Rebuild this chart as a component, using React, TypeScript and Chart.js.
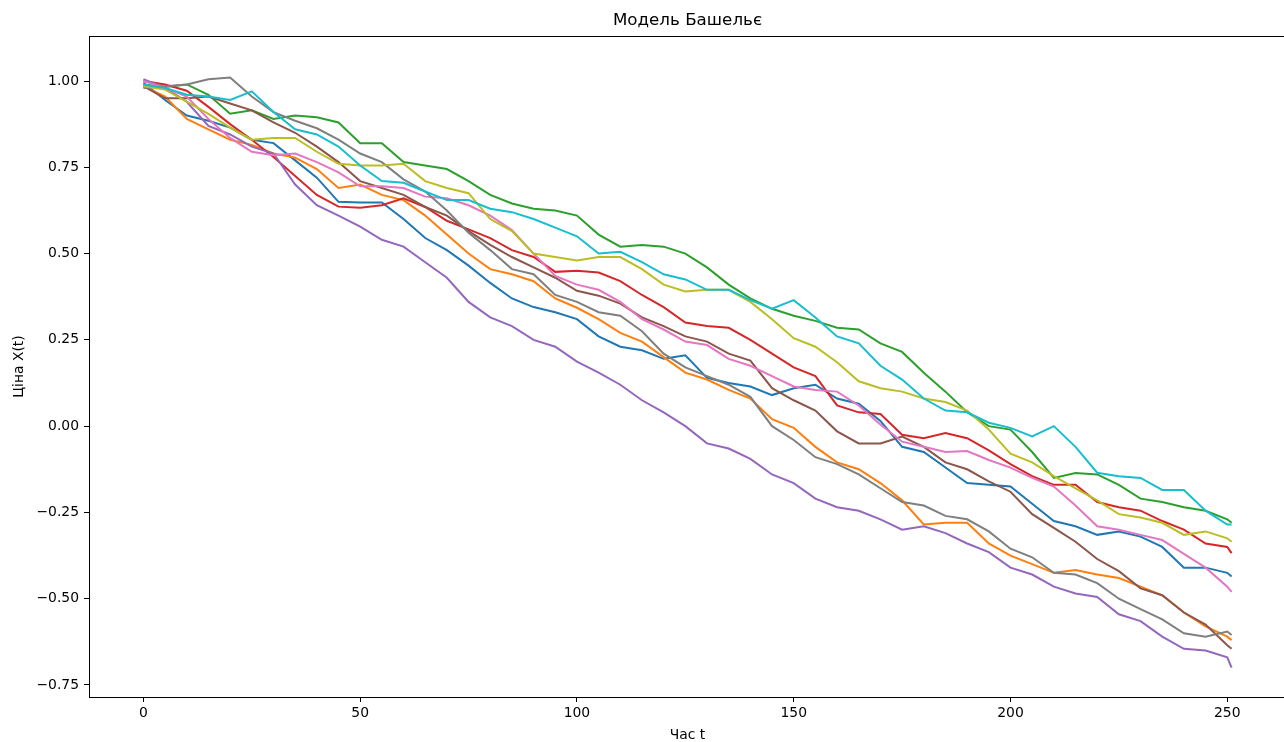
import { useEffect, useRef } from "react";
import { Chart, registerables } from "chart.js";

Chart.register(...registerables);

// time steps (sampled every 5 steps)
const T = [0, 5, 10, 15, 20, 25, 30, 35, 40, 45, 50, 55, 60, 65, 70, 75, 80, 85, 90, 95, 100, 105, 110, 115, 120, 125, 130, 135, 140, 145, 150, 155, 160, 165, 170, 175, 180, 185, 190, 195, 200, 205, 210, 215, 220, 225, 230, 235, 240, 245, 250, 251];

const path1 = [0.995, 0.945, 0.90, 0.885, 0.865, 0.83, 0.82, 0.77, 0.72, 0.65, 0.648, 0.648, 0.60, 0.545, 0.51, 0.465, 0.415, 0.37, 0.345, 0.33, 0.31, 0.26, 0.23, 0.22, 0.195, 0.205, 0.14, 0.125, 0.115, 0.09, 0.11, 0.12, 0.08, 0.065, 0.015, -0.06, -0.075, -0.12, -0.165, -0.17, -0.175, -0.225, -0.275, -0.29, -0.315, -0.305, -0.32, -0.35, -0.41, -0.41, -0.425, -0.436];
const path2 = [0.985, 0.955, 0.89, 0.86, 0.83, 0.815, 0.79, 0.778, 0.745, 0.69, 0.70, 0.67, 0.655, 0.61, 0.555, 0.50, 0.455, 0.44, 0.42, 0.37, 0.343, 0.31, 0.27, 0.245, 0.20, 0.155, 0.135, 0.105, 0.08, 0.02, -0.005, -0.06, -0.105, -0.125, -0.165, -0.215, -0.285, -0.28, -0.28, -0.34, -0.375, -0.40, -0.425, -0.417, -0.43, -0.44, -0.465, -0.49, -0.54, -0.58, -0.61, -0.62];
const path3 = [0.99, 0.983, 0.99, 0.96, 0.905, 0.915, 0.89, 0.90, 0.895, 0.88, 0.82, 0.82, 0.765, 0.755, 0.745, 0.71, 0.67, 0.645, 0.63, 0.625, 0.61, 0.555, 0.52, 0.525, 0.52, 0.50, 0.46, 0.41, 0.37, 0.34, 0.32, 0.305, 0.285, 0.28, 0.24, 0.215, 0.155, 0.10, 0.04, 0.0, -0.01, -0.075, -0.15, -0.136, -0.14, -0.17, -0.21, -0.22, -0.235, -0.245, -0.27, -0.28];
const path4 = [1.0, 0.99, 0.972, 0.925, 0.875, 0.83, 0.78, 0.725, 0.67, 0.636, 0.633, 0.64, 0.66, 0.635, 0.595, 0.57, 0.545, 0.51, 0.49, 0.447, 0.45, 0.445, 0.42, 0.38, 0.345, 0.30, 0.29, 0.285, 0.25, 0.21, 0.17, 0.145, 0.06, 0.04, 0.035, -0.025, -0.035, -0.02, -0.035, -0.07, -0.11, -0.145, -0.17, -0.17, -0.22, -0.235, -0.245, -0.275, -0.30, -0.34, -0.35, -0.368];
const path5 = [1.005, 0.98, 0.94, 0.87, 0.845, 0.81, 0.79, 0.70, 0.64, 0.61, 0.578, 0.54, 0.52, 0.475, 0.43, 0.36, 0.315, 0.29, 0.25, 0.23, 0.187, 0.155, 0.12, 0.075, 0.04, 0.0, -0.05, -0.065, -0.095, -0.14, -0.165, -0.21, -0.235, -0.245, -0.27, -0.30, -0.29, -0.31, -0.34, -0.365, -0.41, -0.43, -0.465, -0.485, -0.495, -0.545, -0.565, -0.61, -0.645, -0.65, -0.67, -0.70];
const path6 = [0.985, 0.95, 0.95, 0.955, 0.935, 0.915, 0.88, 0.85, 0.81, 0.765, 0.71, 0.69, 0.67, 0.635, 0.61, 0.565, 0.525, 0.49, 0.46, 0.43, 0.392, 0.378, 0.355, 0.315, 0.29, 0.26, 0.245, 0.21, 0.19, 0.11, 0.075, 0.045, -0.015, -0.05, -0.05, -0.03, -0.06, -0.105, -0.125, -0.16, -0.19, -0.255, -0.295, -0.335, -0.385, -0.42, -0.47, -0.49, -0.54, -0.575, -0.635, -0.645];
const path7 = [1.0, 0.98, 0.955, 0.89, 0.835, 0.795, 0.785, 0.79, 0.765, 0.735, 0.695, 0.695, 0.69, 0.665, 0.66, 0.64, 0.61, 0.568, 0.50, 0.435, 0.41, 0.395, 0.36, 0.31, 0.28, 0.245, 0.235, 0.195, 0.175, 0.145, 0.115, 0.105, 0.10, 0.06, 0.005, -0.045, -0.06, -0.075, -0.072, -0.098, -0.12, -0.15, -0.175, -0.23, -0.29, -0.30, -0.315, -0.33, -0.37, -0.41, -0.465, -0.48];
const path8 = [0.98, 0.985, 0.99, 1.005, 1.01, 0.955, 0.91, 0.885, 0.863, 0.83, 0.79, 0.765, 0.715, 0.68, 0.625, 0.56, 0.51, 0.455, 0.44, 0.38, 0.36, 0.33, 0.32, 0.275, 0.21, 0.17, 0.145, 0.12, 0.085, 0.0, -0.04, -0.09, -0.11, -0.14, -0.18, -0.22, -0.23, -0.26, -0.27, -0.305, -0.355, -0.38, -0.425, -0.43, -0.455, -0.50, -0.53, -0.56, -0.60, -0.61, -0.595, -0.605];
const path9 = [0.985, 0.975, 0.94, 0.905, 0.865, 0.83, 0.835, 0.835, 0.795, 0.76, 0.755, 0.755, 0.76, 0.71, 0.69, 0.675, 0.60, 0.565, 0.50, 0.49, 0.48, 0.49, 0.49, 0.455, 0.41, 0.39, 0.395, 0.395, 0.36, 0.31, 0.255, 0.23, 0.185, 0.13, 0.11, 0.10, 0.08, 0.07, 0.045, -0.01, -0.08, -0.105, -0.145, -0.18, -0.215, -0.255, -0.265, -0.28, -0.315, -0.305, -0.325, -0.335];
const path10 = [0.99, 0.98, 0.96, 0.955, 0.945, 0.97, 0.91, 0.86, 0.845, 0.81, 0.755, 0.71, 0.705, 0.68, 0.655, 0.655, 0.63, 0.62, 0.60, 0.575, 0.55, 0.50, 0.505, 0.475, 0.44, 0.425, 0.395, 0.395, 0.365, 0.34, 0.365, 0.315, 0.26, 0.24, 0.175, 0.135, 0.08, 0.045, 0.04, 0.01, -0.005, -0.03, 0.0, -0.06, -0.135, -0.145, -0.15, -0.185, -0.185, -0.245, -0.285, -0.285];

const PATHS = [path1, path2, path3, path4, path5, path6, path7, path8, path9, path10];
const COLORS = ["#1f77b4", "#ff7f0e", "#2ca02c", "#d62728", "#9467bd", "#8c564b", "#e377c2", "#7f7f7f", "#bcbd22", "#17becf"];

const X_TICKS = [0, 50, 100, 150, 200, 250];
const Y_TICKS = [-0.75, -0.5, -0.25, 0, 0.25, 0.5, 0.75, 1.0];
const TITLE = "Модель Башельє";
const X_LABEL = "Час t";
const Y_LABEL = "Ціна X(t)";

const FONT = "'DejaVu Sans', sans-serif";

const framePlugin = {
  id: "frameAndTitle",
  afterDraw(chart: any) {
    const { ctx, chartArea } = chart;
    const { left, top, right, bottom } = chartArea;
    ctx.save();
    ctx.strokeStyle = "#000";
    ctx.lineWidth = 1;
    ctx.strokeRect(Math.round(left) + 0.5, Math.round(top) + 0.5, right - left, bottom - top);
    ctx.fillStyle = "#000";
    ctx.font = `16.7px ${FONT}`;
    ctx.textAlign = "center";
    ctx.textBaseline = "middle";
    ctx.fillText(TITLE, (left + right) / 2, 21);
    ctx.restore();
  },
};

export default function App() {
  const ref = useRef<HTMLCanvasElement | null>(null);

  useEffect(() => {
    if (!ref.current) return;
    const datasets = PATHS.map((p, i) => ({
      label: `path ${i + 1}`,
      data: T.map((t, j) => ({ x: t, y: p[j] })),
      borderColor: COLORS[i],
      backgroundColor: COLORS[i],
      borderWidth: 2,
      pointRadius: 0,
      tension: 0,
      fill: false,
    })).reverse();

    const chart = new Chart(ref.current, {
      type: "line",
      data: { datasets },
      options: {
        animation: false,
        responsive: false,
        devicePixelRatio: 1,
        layout: { padding: { top: 36, right: 14, left: 0, bottom: 0 } },
        plugins: {
          legend: { display: false },
          tooltip: { enabled: false },
          title: { display: false },
        },
        scales: {
          x: {
            type: "linear",
            min: -12.55,
            max: 263.55,
            afterBuildTicks: (s: any) => {
              s.ticks = X_TICKS.map((v) => ({ value: v }));
            },
            afterFit: (s: any) => {
              s.height = 45;
            },
            ticks: {
              color: "#000",
              font: { family: FONT, size: 13.9 },
              padding: 3,
              maxRotation: 0,
              autoSkip: false,
              callback: (v: any) => String(v),
            },
            grid: { display: true, drawOnChartArea: false, drawTicks: true, tickLength: 5, color: "#000" },
            border: { display: true, color: "#000", width: 1 },
            title: {
              display: true,
              text: X_LABEL,
              color: "#000",
              font: { family: FONT, size: 13.9, lineHeight: 1 },
              padding: { top: 0, bottom: 0 },
            },
          },
          y: {
            type: "linear",
            min: -0.7848,
            max: 1.1304,
            afterBuildTicks: (s: any) => {
              s.ticks = Y_TICKS.map((v) => ({ value: v }));
            },
            afterFit: (s: any) => {
              s.width = 89;
            },
            ticks: {
              color: "#000",
              font: { family: FONT, size: 13.9 },
              padding: 5,
              autoSkip: false,
              callback: (v: any) => (v < 0 ? "\u2212" : "") + Math.abs(Number(v)).toFixed(2),
            },
            grid: { display: true, drawOnChartArea: false, drawTicks: true, tickLength: 5, color: "#000" },
            border: { display: true, color: "#000", width: 1 },
            title: {
              display: true,
              text: Y_LABEL,
              color: "#000",
              font: { family: FONT, size: 13.9, lineHeight: 1 },
              padding: { top: 12, bottom: 0 },
            },
          },
        },
      },
      plugins: [framePlugin],
    } as any);
    return () => chart.destroy();
  }, []);

  return (
    <div
      style={{
        position: "absolute",
        left: 0,
        top: 0,
        width: 1284,
        height: 742,
        overflow: "hidden",
        background: "#fff",
      }}
    >
      <canvas ref={ref} width={1300} height={742} style={{ display: "block", width: 1300, height: 742 }} />
    </div>
  );
}
